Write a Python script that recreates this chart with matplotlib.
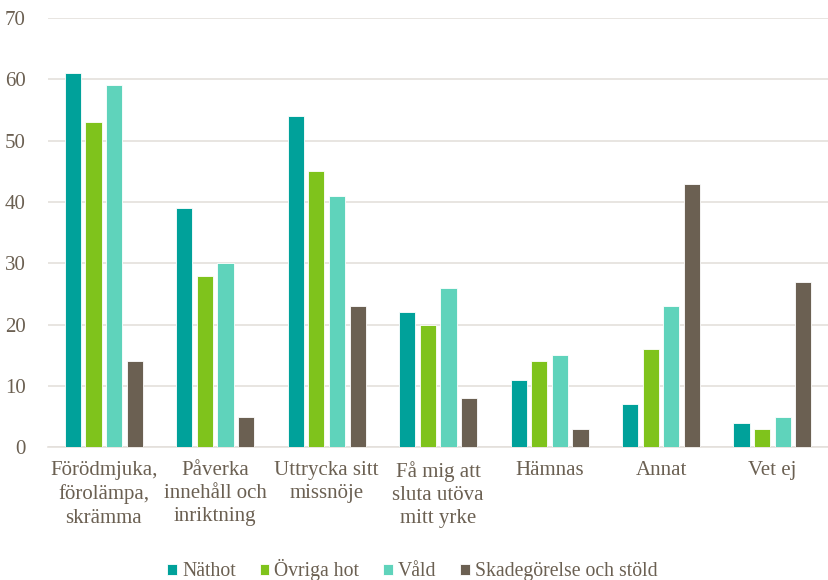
import numpy as np
import matplotlib.pyplot as plt

categories = ['Förödmjuka,\nförolämpa,\nskrämma', 'Påverka\ninnehåll och\ninriktning',
              'Uttrycka sitt\nmissnöje', 'Få mig att\nsluta utöva\nmitt yrke',
              'Hämnas', 'Annat', 'Vet ej']
series = ['Näthot', 'Övriga hot', 'Våld', 'Skadegörelse och stöld']
nathot = [61, 39, 54, 22, 11, 7, 4]
ovriga = [53, 28, 45, 20, 14, 16, 3]
vald = [59, 30, 41, 26, 15, 23, 5]
skadeg = [14, 5, 23, 8, 3, 43, 27]
colors = ['#00A19A', '#7FC31C', '#5FD3BB', '#6B6052']

text_col = '#6B6052'
plt.rcParams['font.family'] = ['Liberation Serif', 'DejaVu Serif']

fig = plt.figure(figsize=(8.29, 5.80), dpi=100)
ax = fig.add_axes([0.058, 0.229, 0.941, 0.740])

x = np.arange(len(categories))
w = 0.145
step = 0.185
for i, (vals, name) in enumerate(zip([nathot, ovriga, vald, skadeg], series)):
    ax.bar(x + (i - 1.5) * step, vals, w, color=colors[i], label=name,
           edgecolor='white', linewidth=0.6, zorder=3)

ax.set_xlim(-0.5, len(categories) - 0.5)
ax.set_ylim(0, 70)
ax.set_yticks(range(0, 71, 10))
ax.yaxis.grid(True, color='#E4E0DC', linewidth=1.2, zorder=0)
for s in ['top', 'right', 'left']:
    ax.spines[s].set_visible(False)
ax.spines['bottom'].set_color('#E4E0DC')
ax.spines['bottom'].set_linewidth(1.2)
ax.set_xticks(x)
ax.set_xticklabels(categories, fontsize=15, color=text_col, linespacing=1.3)
ax.tick_params(axis='both', length=0, labelsize=15, colors=text_col)
ax.tick_params(axis='x', pad=10)
ax.tick_params(axis='y', pad=16)

ax.legend(loc='center', bbox_to_anchor=(0.467, -0.287), ncol=4, frameon=False,
          fontsize=14.2, handlelength=0.5, handleheight=0.5, handletextpad=0.25,
          columnspacing=1.2, labelcolor=text_col)

fig.savefig('out.png', dpi=100)
